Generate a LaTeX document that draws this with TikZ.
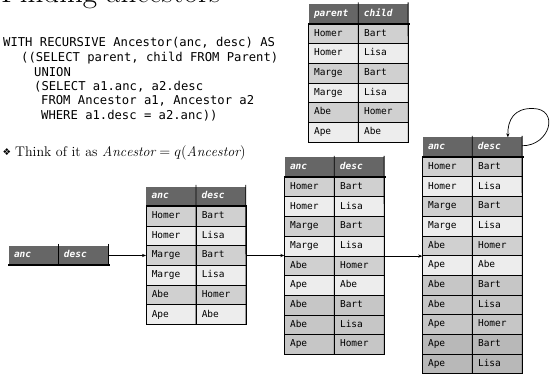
\documentclass[tikz,border=0pt]{standalone}
\usepackage{fontspec}
\setmonofont{DejaVu Sans Mono}
\newfontfamily\dejavu{DejaVu Sans}
\usetikzlibrary{arrows.meta}
\definecolor{hdr}{HTML}{666666}
\definecolor{rg}{HTML}{D0D0D0}
\definecolor{rl}{HTML}{EDEDED}
\definecolor{rn}{HTML}{C6C6C6}
\definecolor{rd}{HTML}{B8B8B8}
\tikzset{
  cell/.style={draw=black, line width=0.5pt, anchor=north west, text width=38.5pt,
    inner xsep=5.5pt, inner ysep=0pt, minimum height=19.7pt, text height=7pt,
    text depth=2pt, align=left, font=\ttfamily\fontsize{9.5}{11}\selectfont},
  hcell/.style={fill=hdr, anchor=north west, text=white, text width=38.5pt,
    inner xsep=5.5pt, inner ysep=0pt, minimum height=19.5pt, text height=7pt,
    text depth=2pt, align=left, font=\ttfamily\bfseries\itshape\fontsize{9.5}{11}\selectfont},
  hrule/.style={line width=2.2pt, black},
  vrule/.style={line width=0.8pt, black},
  arr/.style={line width=0.7pt, -{Stealth[length=4pt,width=3.2pt]}},
  code/.style={anchor=base west, inner sep=0pt, font=\ttfamily\fontsize{12.2}{14}\selectfont},
}
% #1 name, #2 x, #3 y top, #4 list of rows
\newcommand\dbrows[4]{%
  \foreach \a/\b/\c [count=\i] in {#4} {
    \node[cell, fill=\c] (#1a\i) at (#2, {#3+19.5+(\i-1)*19.7}) {\a};
    \node[cell, fill=\c] (#1b\i) at (#1a\i.north east) {\b};
  }%
}
% #1 name, #2 x, #3 y top, #4 h1, #5 h2
\newcommand\dbhead[5]{%
  \node[hcell] (#1h1) at (#2,#3) {#4};
  \node[hcell] (#1h2) at (#1h1.north east) {#5};
  \draw[hrule] (#1h1.south west) -- ([xshift=1.5pt]#1h2.south east);
}
\begin{document}
\begin{tikzpicture}[x=1pt, y=-1pt]
\fill[white] (0,0) rectangle (550,374);
\useasboundingbox (0,0) rectangle (550,374);

% title
\node[anchor=base west, inner sep=0pt, font=\fontsize{31}{34}\selectfont] (title) at (1,2.5) {Finding ancestors};

% code
\node[code] (c1) at (3,46.5) {WITH RECURSIVE Ancestor(anc, desc) AS};
\node[code] (c2) at (21,61.5) {((SELECT parent, child FROM Parent)};
\node[code] (c3) at (34,76.5) {UNION};
\node[code] (c4) at (34,90.5) {(SELECT a1.anc, a2.desc};
\node[code] (c5) at (41,104.5) {FROM Ancestor a1, Ancestor a2};
\node[code] (c6) at (41,119.5) {WHERE a1.desc = a2.anc))};

% bullet
\node[inner sep=0pt, font=\dejavu\fontsize{9.5}{10}\selectfont] (bul) at (7,152) {❖};
\node[anchor=base west, inner sep=0pt, font=\fontsize{14}{16}\selectfont] (think) at (15,156.5)
  {Think of it as $\mathit{Ancestor} = q(\mathit{Ancestor})$};

% Parent table
\dbrows{p}{308.3}{4}{Homer/Bart/rg, Homer/Lisa/rl, Marge/Bart/rg, Marge/Lisa/rl, Abe/Homer/rg, Ape/Abe/rl}
\dbhead{p}{308.3}{4}{parent}{child}
\draw[vrule] ([yshift=1.5pt]ph1.north east) -- (pb6.south west);
\draw[vrule] ([yshift=1.5pt]ph2.north east) -- (pb6.south east);

% empty table
\dbhead{e}{8.3}{245.5}{anc}{desc}
\draw[vrule] ([yshift=1.5pt]eh1.north east) -- (eh1.south east);
\draw[vrule] ([yshift=1.5pt]eh2.north east) -- (eh2.south east);

% first iteration
\dbrows{s}{146}{186.5}{Homer/Bart/rg, Homer/Lisa/rl, Marge/Bart/rg, Marge/Lisa/rl, Abe/Homer/rg, Ape/Abe/rl}
\dbhead{s}{146}{186.5}{anc}{desc}
\draw[vrule] ([yshift=1.5pt]sh1.north east) -- (sb6.south west);
\draw[vrule] ([yshift=1.5pt]sh2.north east) -- (sb6.south east);

% second iteration
\dbrows{t}{284.3}{157.3}{Homer/Bart/rg, Homer/Lisa/rl, Marge/Bart/rg, Marge/Lisa/rl, Abe/Homer/rg, Ape/Abe/rl, Abe/Bart/rn, Abe/Lisa/rn, Ape/Homer/rn}
\dbhead{t}{284.3}{157.3}{anc}{desc}
\draw[vrule] ([yshift=1.5pt]th1.north east) -- (tb9.south west);
\draw[vrule] ([yshift=1.5pt]th2.north east) -- (tb9.south east);

% third iteration
\dbrows{u}{422.3}{137.3}{Homer/Bart/rg, Homer/Lisa/rl, Marge/Bart/rg, Marge/Lisa/rl, Abe/Homer/rg, Ape/Abe/rl, Abe/Bart/rn, Abe/Lisa/rn, Ape/Homer/rn, Ape/Bart/rd, Ape/Lisa/rd}
\dbhead{u}{422.3}{137.3}{anc}{desc}
\draw[vrule] ([yshift=1.5pt]uh1.north east) -- (ub11.south west);
\draw[vrule] ([yshift=1.5pt]uh2.north east) -- (ub11.south east);

% arrows
\draw[arr] (eh2.east) -- (sa3.west);
\draw[arr] (sb3.east) -- (sb3.east -| ta1.west);
\draw[arr] (tb4.south east) -- (tb4.south east -| ua1.west);
\coordinate (uin) at ([xshift=35.7pt]uh2.north west);
\draw[arr] ([yshift=1.5pt]uh2.east) .. controls (550,146) and (560,109) .. (533,108.5)
  .. controls (514,108) and (507.5,120) .. (uin);
\end{tikzpicture}
\end{document}
